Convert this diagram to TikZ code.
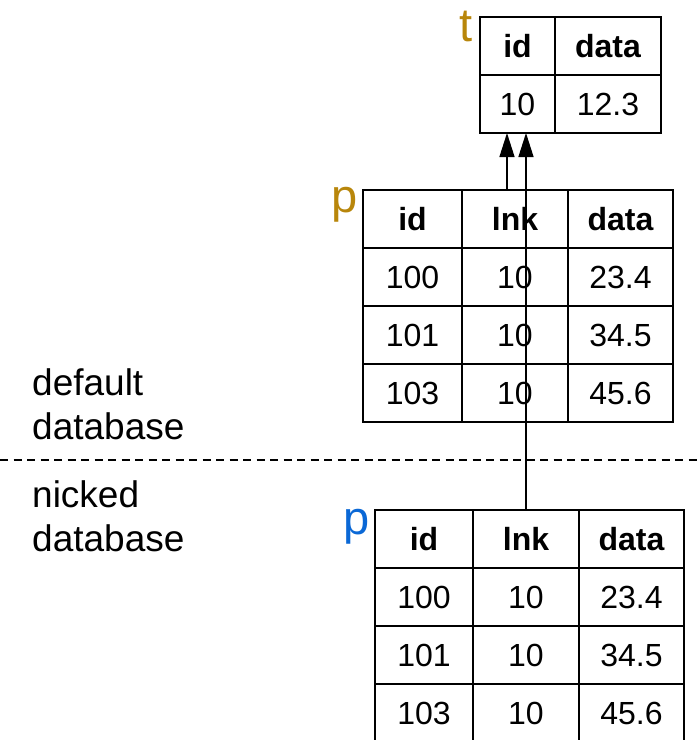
\documentclass[tikz,border=0pt]{standalone}
\usepackage{fontspec}
\setmainfont{Liberation Sans}
\usepackage{tikz}
\usetikzlibrary{arrows.meta, positioning}
\definecolor{tblgold}{RGB}{184,134,11}
\definecolor{tblblue}{RGB}{10,104,214}
\newcommand{\cellfont}{\fontsize{32}{38}\selectfont}
\newcommand{\sidefont}{\fontsize{37}{44}\selectfont}
\newcommand{\namefont}{\fontsize{47}{50}\selectfont}
\tikzset{
  cell/.style={rectangle, draw=black, line width=1.8pt, inner sep=0pt,
    outer sep=0pt, minimum height=58pt, font=\cellfont},
  hdr/.style={cell, font=\cellfont\bfseries},
  tname/.style={inner sep=0pt, font=\namefont},
  dblabel/.style={inner sep=0pt, align=left, font=\sidefont},
  fkarrow/.style={-{Triangle[length=24pt, width=15pt]}, line width=1.4pt},
  dbsplit/.style={line width=1.5pt, dash pattern=on 8pt off 5.5pt}
}

\begin{document}
\begin{tikzpicture}[x=1pt, y=-1pt, node distance=0pt]
  \useasboundingbox (0,0) rectangle (697,740);

  % table t
  \node[hdr, anchor=north west, minimum width=75pt] (tid) at (480,17) {id};
  \node[hdr, minimum width=106pt, right=of tid] (tdata) {data};
  \node[cell, minimum width=75pt, below=of tid] (tval) {10};
  \node[cell, minimum width=106pt, below=of tdata] (tvdata) {12.3};
  \node[tname, text=tblgold, anchor=base east] (tlbl)
    at ([xshift=-7pt, yshift=-24pt]tid.north west) {t};

  % table p (default database)
  \node[hdr, anchor=north west, minimum width=99pt] (pid) at (363,190) {id};
  \node[hdr, minimum width=106pt, right=of pid] (plnk) {lnk};
  \node[hdr, minimum width=105pt, right=of plnk] (pdata) {data};
  \node[cell, minimum width=99pt, below=of pid] (p1id) {100};
  \node[cell, minimum width=106pt, below=of plnk] (p1lnk) {10};
  \node[cell, minimum width=105pt, below=of pdata] (p1data) {23.4};
  \node[cell, minimum width=99pt, below=of p1id] (p2id) {101};
  \node[cell, minimum width=106pt, below=of p1lnk] (p2lnk) {10};
  \node[cell, minimum width=105pt, below=of p1data] (p2data) {34.5};
  \node[cell, minimum width=99pt, below=of p2id] (p3id) {103};
  \node[cell, minimum width=106pt, below=of p2lnk] (p3lnk) {10};
  \node[cell, minimum width=105pt, below=of p2data] (p3data) {45.6};
  \node[tname, text=tblgold, anchor=base east] (plbl)
    at ([xshift=-5pt, yshift=-22pt]pid.north west) {p};

  % table p (nicked database)
  \node[hdr, anchor=north west, minimum width=98pt] (nid) at (375,510) {id};
  \node[hdr, minimum width=106pt, right=of nid] (nlnk) {lnk};
  \node[hdr, minimum width=105pt, right=of nlnk] (ndata) {data};
  \node[cell, minimum width=98pt, below=of nid] (n1id) {100};
  \node[cell, minimum width=106pt, below=of nlnk] (n1lnk) {10};
  \node[cell, minimum width=105pt, below=of ndata] (n1data) {23.4};
  \node[cell, minimum width=98pt, below=of n1id] (n2id) {101};
  \node[cell, minimum width=106pt, below=of n1lnk] (n2lnk) {10};
  \node[cell, minimum width=105pt, below=of n1data] (n2data) {34.5};
  \node[cell, minimum width=98pt, below=of n2id] (n3id) {103};
  \node[cell, minimum width=106pt, below=of n2lnk] (n3lnk) {10};
  \node[cell, minimum width=105pt, below=of n2data] (n3data) {45.6};
  \node[tname, text=tblblue, anchor=base east] (nlbl)
    at ([xshift=-5pt, yshift=-24pt]nid.north west) {p};

  % database split
  \coordinate (splitl) at (0,460);
  \coordinate (splitr) at (697,460);
  \draw[dbsplit] (splitl) -- (splitr);
  \node[dblabel, anchor=north west] (deflbl) at (32,368) {default\\database};
  \node[dblabel, anchor=north west] (nicklbl) at (32,480) {nicked\\database};

  % links to t
  \coordinate (fk1) at ([xshift=-8pt]plnk.north);
  \draw[fkarrow] (fk1) -- (fk1 |- tval.south);
  \draw[fkarrow] (nlnk.north) -- (nlnk.north |- tval.south);
\end{tikzpicture}
\end{document}
